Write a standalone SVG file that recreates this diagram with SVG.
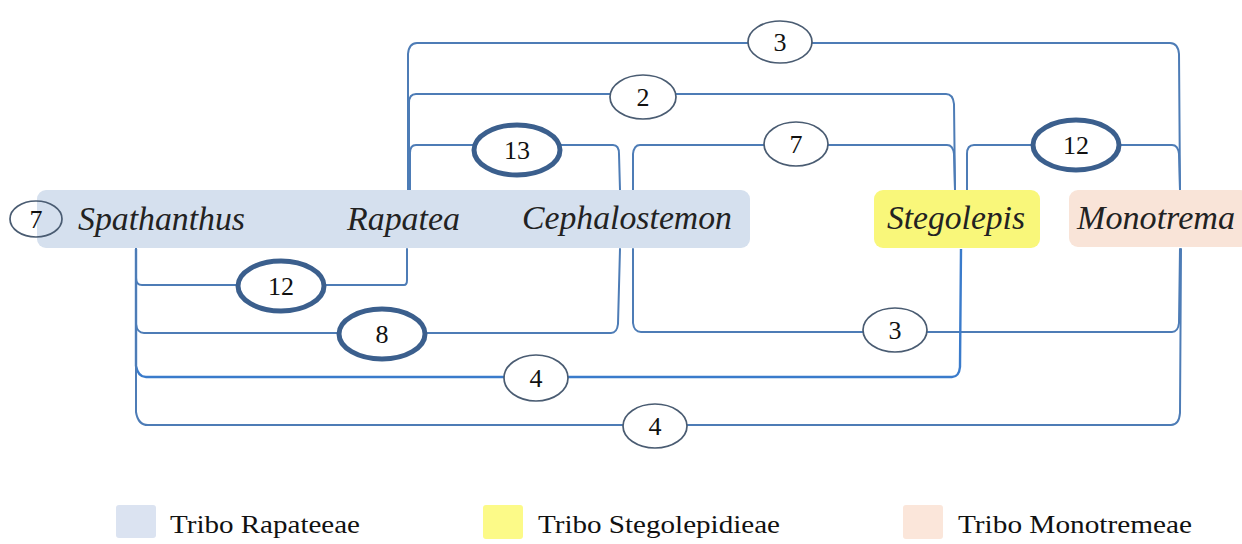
<svg xmlns="http://www.w3.org/2000/svg" width="1242" height="544" viewBox="0 0 1242 544">
<style>
.c{fill:none;stroke:#4d7cb6;stroke-width:2;stroke-linecap:round}
.cb{fill:none;stroke:#3a7bcb;stroke-width:2.4}
.e{fill:#fff;stroke:#4a5c72;stroke-width:1.7}
.et{fill:#fff;stroke:#3b5f8d;stroke-width:5}
.n{font-family:"Liberation Serif","Times New Roman",serif;font-size:26px;fill:#111;text-anchor:middle}
.lb{font-family:"Liberation Serif","Times New Roman",serif;font-style:italic;font-size:33px;fill:#222}
.lg{font-family:"Liberation Serif","Times New Roman",serif;font-size:26px;fill:#111}
</style>
<rect width="1242" height="544" fill="#fff"/>
<g id="connectors">
<path class="c" d="M408,190 V54 Q409,43 417,43 H1170 Q1178,43 1179,54 L1180,190"/>
<path class="c" d="M409,190 V103 Q409,94 416,94 H946 Q953,94 954,104 L955,190"/>
<path class="c" d="M410,190 V153 Q410,145 416,145 H613 Q619,145 619,154 L620,190"/>
<path class="c" d="M633,190 V154 Q634,145 640,145 H947 Q953,145 954,154 L955,190"/>
<path class="c" d="M967,190 V154 Q967,145 974,145 H1172 Q1178,145 1179,154 L1180,190"/>
<path class="c" d="M136,249 V278 Q136,285 142,285 H404 Q407,285 407,280 V249"/>
<path class="c" d="M136,249 V324 Q137,333 144,333 H611 Q617,333 618,324 L620,249"/>
<path class="c" d="M633,249 V323 Q634,332 641,332 H1172 Q1178,332 1179,323 L1180,249"/>
<path class="cb" d="M136,249 V366 Q138,377 146,377 H952 Q959,377 960,367 L961,249"/>
<path class="c" d="M136,249 V412 Q138,425 148,425 H1171 Q1179,425 1180,413 L1181,249"/>
</g>
<g id="node-rapateeae">
<rect x="37" y="190" width="713" height="58" rx="9" fill="#d5e0ee"/>
<text class="lb" x="78" y="230" textLength="167" lengthAdjust="spacingAndGlyphs">Spathanthus</text>
<text class="lb" x="347" y="230" textLength="113" lengthAdjust="spacingAndGlyphs">Rapatea</text>
<text class="lb" x="522" y="229" textLength="210" lengthAdjust="spacingAndGlyphs">Cephalostemon</text>
</g>
<g id="node-7">
<ellipse cx="36" cy="219" rx="26" ry="18" fill="none" stroke="#4a5c72" stroke-width="1.7"/>
<text class="n" x="36" y="228">7</text>
</g>
<g id="node-stegolepis">
<rect x="874" y="190" width="166" height="58" rx="9" fill="#f9f77a"/>
<text class="lb" x="887" y="229" textLength="138" lengthAdjust="spacingAndGlyphs">Stegolepis</text>
</g>
<g id="node-monotrema">
<rect x="1069" y="190" width="180" height="57" rx="9" fill="#f9e4d8"/>
<text class="lb" x="1077" y="229" textLength="158" lengthAdjust="spacingAndGlyphs">Monotrema</text>
</g>
<g id="w-3-top"><ellipse class="e" cx="780" cy="42" rx="32" ry="21"/><text class="n" x="780" y="51">3</text></g>
<g id="w-2"><ellipse class="e" cx="643" cy="97" rx="33" ry="22"/><text class="n" x="643" y="106">2</text></g>
<g id="w-13"><ellipse class="et" cx="517" cy="150" rx="43" ry="25"/><text class="n" x="517" y="159">13</text></g>
<g id="w-7"><ellipse class="e" cx="796" cy="144" rx="32" ry="22"/><text class="n" x="796" y="153">7</text></g>
<g id="w-12-top"><ellipse class="et" cx="1076" cy="145" rx="43" ry="25"/><text class="n" x="1076" y="154">12</text></g>
<g id="w-12-low"><ellipse class="et" cx="281" cy="286" rx="43" ry="25"/><text class="n" x="281" y="295">12</text></g>
<g id="w-8"><ellipse class="et" cx="382" cy="334" rx="43" ry="25"/><text class="n" x="382" y="343">8</text></g>
<g id="w-3-low"><ellipse class="e" cx="895" cy="330" rx="32" ry="22"/><text class="n" x="895" y="339">3</text></g>
<g id="w-4-mid"><ellipse class="e" cx="536" cy="378" rx="32" ry="23"/><text class="n" x="536" y="387">4</text></g>
<g id="w-4-low"><ellipse class="e" cx="655" cy="426" rx="32" ry="22"/><text class="n" x="655" y="435">4</text></g>
<g id="legend">
<rect x="116" y="505" width="40" height="33" rx="3" fill="#dbe3f1"/>
<text class="lg" x="170" y="533" textLength="190" lengthAdjust="spacingAndGlyphs">Tribo Rapateeae</text>
<rect x="483" y="505" width="40" height="34" rx="3" fill="#fcfa88"/>
<text class="lg" x="538" y="533" textLength="242" lengthAdjust="spacingAndGlyphs">Tribo Stegolepidieae</text>
<rect x="903" y="505" width="40" height="34" rx="3" fill="#fbe6da"/>
<text class="lg" x="958" y="533" textLength="234" lengthAdjust="spacingAndGlyphs">Tribo Monotremeae</text>
</g>
</svg>
